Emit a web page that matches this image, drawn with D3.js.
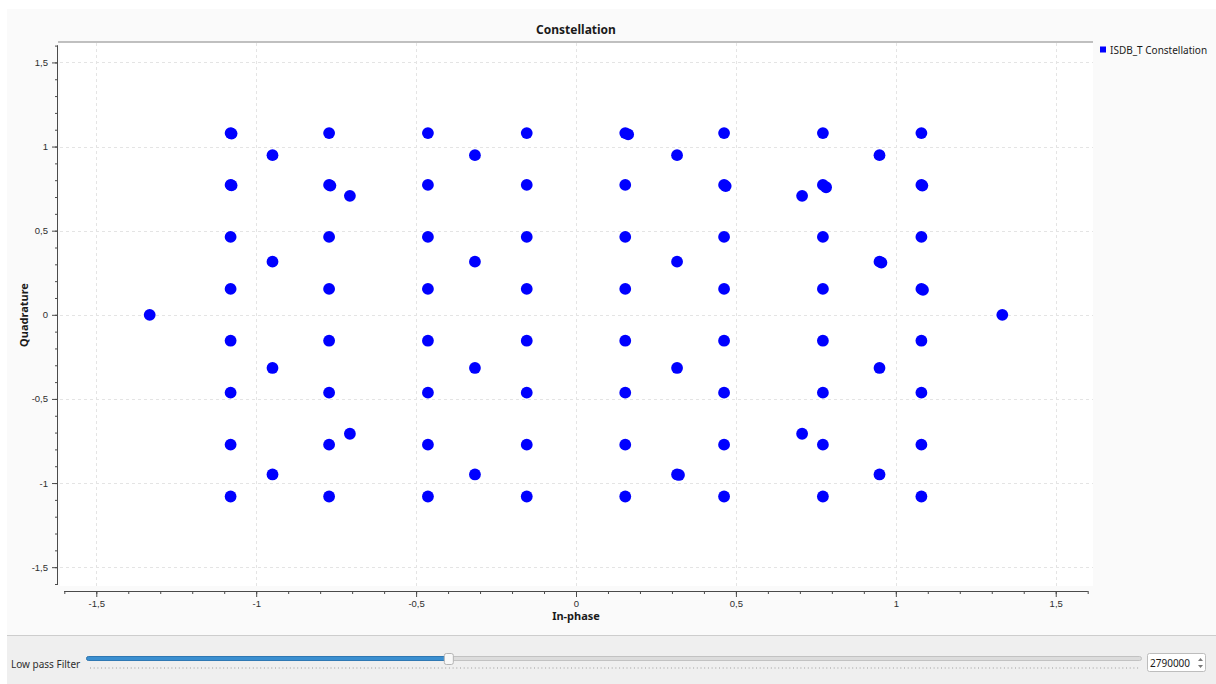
<!DOCTYPE html>
<html>
<head>
<meta charset="utf-8">
<script src="https://cdn.jsdelivr.net/npm/d3@7"></script>
<style>
  html, body { margin: 0; padding: 0; background: #ffffff; }
  svg { display: block; font-family: "Noto Sans", "DejaVu Sans", sans-serif; }
</style>
</head>
<body>
<svg id="chart" width="1216" height="684"></svg>
<script>
// Received symbols: in-phase (I) and quadrature (Q) components
const inphase = [
  // 64-QAM carriers
  -1.080, -0.772, -0.463, -0.154, 0.154, 0.463, 0.772, 1.080,
  -1.080, -0.772, -0.463, -0.154, 0.154, 0.463, 0.772, 1.080,
  -1.080, -0.772, -0.463, -0.154, 0.154, 0.463, 0.772, 1.080,
  -1.080, -0.772, -0.463, -0.154, 0.154, 0.463, 0.772, 1.080,
  -1.080, -0.772, -0.463, -0.154, 0.154, 0.463, 0.772, 1.080,
  -1.080, -0.772, -0.463, -0.154, 0.154, 0.463, 0.772, 1.080,
  -1.080, -0.772, -0.463, -0.154, 0.154, 0.463, 0.772, 1.080,
  -1.080, -0.772, -0.463, -0.154, 0.154, 0.463, 0.772, 1.080,
  // 16-QAM carriers
  -0.949, -0.316, 0.316, 0.949,
  -0.949, -0.316, 0.316, 0.949,
  -0.949, -0.316, 0.316, 0.949,
  -0.949, -0.316, 0.316, 0.949,
  // QPSK carriers
  -0.707, 0.707, -0.707, 0.707,
  // BPSK pilots
  -1.333, 1.333,
  // noisy repeats
  0.163, 0.468, 0.782, 0.955, 0.322, -0.768, 1.085, -1.077, -1.077, 1.083
];
const quadrature = [
  1.080, 1.080, 1.080, 1.080, 1.080, 1.080, 1.080, 1.080,
  0.772, 0.772, 0.772, 0.772, 0.772, 0.772, 0.772, 0.772,
  0.463, 0.463, 0.463, 0.463, 0.463, 0.463, 0.463, 0.463,
  0.154, 0.154, 0.154, 0.154, 0.154, 0.154, 0.154, 0.154,
  -0.154, -0.154, -0.154, -0.154, -0.154, -0.154, -0.154, -0.154,
  -0.463, -0.463, -0.463, -0.463, -0.463, -0.463, -0.463, -0.463,
  -0.772, -0.772, -0.772, -0.772, -0.772, -0.772, -0.772, -0.772,
  -1.080, -1.080, -1.080, -1.080, -1.080, -1.080, -1.080, -1.080,
  0.949, 0.949, 0.949, 0.949,
  0.316, 0.316, 0.316, 0.316,
  -0.316, -0.316, -0.316, -0.316,
  -0.949, -0.949, -0.949, -0.949,
  0.707, 0.707, -0.707, -0.707,
  0.000, 0.000,
  1.072, 0.765, 0.758, 0.310, -0.952, 0.768, 0.148, 1.077, 0.769, 0.768
];

const majorTicks = [-1.5, -1, -0.5, 0, 0.5, 1, 1.5];
const tickLabels = ["-1,5", "-1", "-0,5", "0", "0,5", "1", "1,5"];
const axisDomain = [-1.6, 1.6];

const chartTitle = "Constellation";
const xTitle = "In-phase";
const yTitle = "Quadrature";
const seriesName = "ISDB_T Constellation";

const filterLabel = "Low pass Filter";
const filterValue = 2790000;
const filterRange = [0, 8126984];

const points = inphase.map((v, i) => ({ i: v, q: quadrature[i] }));

const svg = d3.select("#chart");
const blue = "#0000ff";
const axisColor = "#4a4a4a";
const textColor = "#2e2e2e";

// Window background and panels
svg.append("rect").attr("x", 0).attr("y", 0).attr("width", 1216).attr("height", 684).attr("fill", "#ffffff");
svg.append("rect").attr("x", 7).attr("y", 9).attr("width", 1209).attr("height", 626).attr("fill", "#fafafa");
svg.append("rect").attr("x", 7).attr("y", 635).attr("width", 1209).attr("height", 49).attr("fill", "#efefef");
svg.append("line").attr("x1", 7).attr("x2", 1216).attr("y1", 635.5).attr("y2", 635.5).attr("stroke", "#cdcdcd");

// Plot area
const plot = { left: 60, top: 42, right: 1093, bottom: 586 };
svg.append("rect")
  .attr("x", plot.left).attr("y", plot.top)
  .attr("width", plot.right - plot.left).attr("height", plot.bottom - plot.top)
  .attr("fill", "#ffffff");
svg.append("line")
  .attr("x1", 58).attr("x2", plot.right).attr("y1", 42).attr("y2", 42)
  .attr("stroke", "#ababab").attr("stroke-width", 1.5);

const x = d3.scaleLinear().domain(axisDomain).range([64.3, 1087.7]);
const y = d3.scaleLinear().domain(axisDomain).range([584, 45.6]);

// Grid
const grid = svg.append("g").attr("stroke", "#e4e4e4").attr("stroke-dasharray", "3,3").attr("stroke-width", 1);
grid.selectAll(".gx").data(majorTicks).join("line")
  .attr("x1", d => Math.round(x(d)) + 0.5).attr("x2", d => Math.round(x(d)) + 0.5)
  .attr("y1", plot.top + 1).attr("y2", plot.bottom);
grid.selectAll(".gy").data(majorTicks).join("line")
  .attr("y1", d => Math.round(y(d)) + 0.5).attr("y2", d => Math.round(y(d)) + 0.5)
  .attr("x1", plot.left).attr("x2", plot.right);

const minorTicks = d3.range(-16, 17).map(k => k / 10);
const fmt = d => tickLabels[majorTicks.indexOf(d)];

// X axis
const xAxisG = svg.append("g").attr("transform", "translate(0,591)");
xAxisG.call(d3.axisBottom(x).tickValues(minorTicks).tickSize(3).tickFormat(""));
xAxisG.append("g").call(d3.axisBottom(x).tickValues(majorTicks).tickSize(6).tickPadding(3).tickFormat(fmt));
xAxisG.selectAll(".domain").attr("stroke", axisColor).attr("d", `M${x(-1.6)},0.5H${x(1.6)}`);
xAxisG.selectAll(".tick line").attr("stroke", axisColor);
xAxisG.selectAll(".tick text").attr("fill", textColor).attr("font-size", 9.5);

// Y axis
const yAxisG = svg.append("g").attr("transform", "translate(58,0)");
yAxisG.call(d3.axisLeft(y).tickValues(minorTicks).tickSize(3).tickFormat(""));
yAxisG.append("g").call(d3.axisLeft(y).tickValues(majorTicks).tickSize(6).tickPadding(4).tickFormat(fmt));
yAxisG.selectAll(".domain").attr("stroke", axisColor).attr("d", `M-0.5,${y(1.6)}V${y(-1.6)}`);
yAxisG.selectAll(".tick line").attr("stroke", axisColor);
yAxisG.selectAll(".tick text").attr("fill", textColor).attr("font-size", 9.5);

// Titles
svg.append("text").attr("x", 576).attr("y", 34).attr("text-anchor", "middle")
  .attr("font-size", 12).attr("font-weight", "bold").attr("fill", "#1a1a1a").text(chartTitle);
svg.append("text").attr("x", 576).attr("y", 620).attr("text-anchor", "middle")
  .attr("font-size", 11).attr("font-weight", "bold").attr("fill", "#1a1a1a").text(xTitle);
svg.append("text").attr("transform", "translate(28,315) rotate(-90)").attr("text-anchor", "middle")
  .attr("font-size", 11).attr("font-weight", "bold").attr("fill", "#1a1a1a").text(yTitle);

// Symbols
svg.append("g").selectAll("circle").data(points).join("circle")
  .attr("cx", d => x(d.i)).attr("cy", d => y(d.q)).attr("r", 5.9)
  .attr("fill", blue);

// Legend
svg.append("rect").attr("x", 1100).attr("y", 46.5).attr("width", 6).attr("height", 6).attr("fill", blue);
svg.append("text").attr("x", 1110).attr("y", 53.5).attr("font-size", 10).attr("fill", "#1a1a1a").text(seriesName);

// Low pass filter slider
svg.append("text").attr("x", 11).attr("y", 667.5).attr("font-size", 10).attr("fill", textColor).text(filterLabel);
const s = d3.scaleLinear().domain(filterRange).range([87, 1141]);
svg.append("rect").attr("x", 86.5).attr("y", 656.5).attr("width", 1055).attr("height", 4).attr("rx", 2)
  .attr("fill", "#dcdcdc").attr("stroke", "#c2c2c2");
svg.append("rect").attr("x", 86.5).attr("y", 656.5).attr("width", s(filterValue) - 86.5).attr("height", 4).attr("rx", 2)
  .attr("fill", "#3a8fd0").attr("stroke", "#2f78b3");
svg.append("line").attr("x1", 90).attr("x2", 1139).attr("y1", 668).attr("y2", 668)
  .attr("stroke", "#b8b8b8").attr("stroke-width", 1.5).attr("stroke-dasharray", "1,2.7");
svg.append("rect").attr("x", s(filterValue) - 4.5).attr("y", 653.5).attr("width", 9).attr("height", 11).attr("rx", 2)
  .attr("fill", "#f8f8f8").attr("stroke", "#b4b4b4");

// Spin box
svg.append("rect").attr("x", 1147.5).attr("y", 653.5).attr("width", 58).attr("height", 18).attr("rx", 2)
  .attr("fill", "#ffffff").attr("stroke", "#bdbdbd");
svg.append("text").attr("x", 1150).attr("y", 667).attr("font-size", 10).attr("fill", "#1a1a1a").text(filterValue);
svg.append("path").attr("d", "M1198,661 L1200.5,658 L1203,661 Z").attr("fill", "#777");
svg.append("path").attr("d", "M1198,665 L1200.5,668 L1203,665 Z").attr("fill", "#777");
</script>
</body>
</html>
